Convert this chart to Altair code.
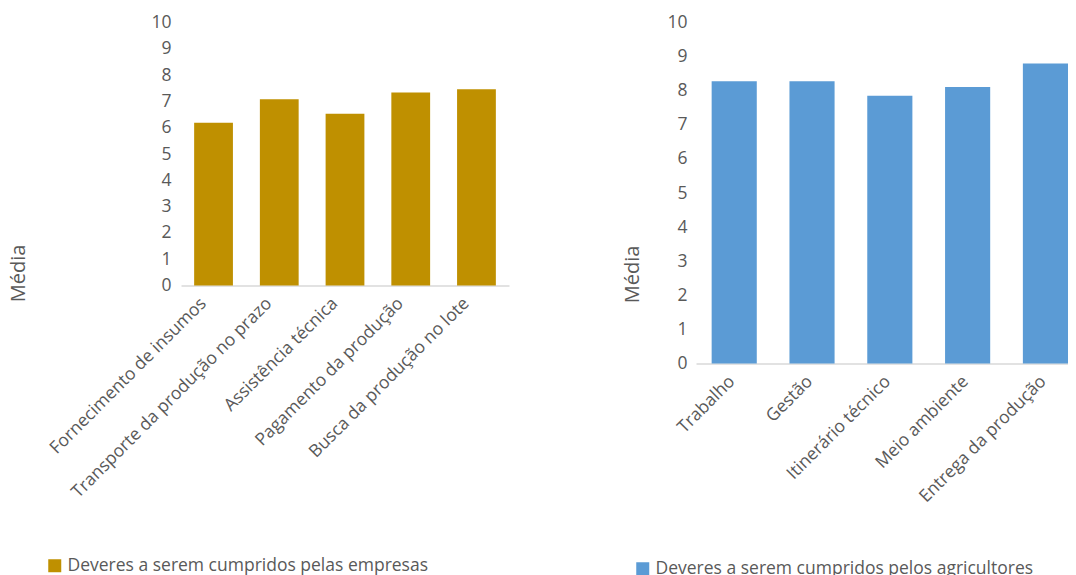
import altair as alt
import pandas as pd

left_categories = ["Fornecimento de insumos", "Transporte da produção no prazo",
                   "Assistência técnica", "Pagamento da produção", "Busca da produção no lote"]
left_values = [6.19, 7.08, 6.53, 7.34, 7.46]
left_series = "Deveres a serem cumpridos pelas empresas"

right_categories = ["Trabalho", "Gestão", "Itinerário técnico", "Meio ambiente", "Entrega da produção"]
right_values = [8.28, 8.28, 7.85, 8.11, 8.80]
right_series = "Deveres a serem cumpridos pelos agricultores"

y_title = "Média"
FONT = "Open Sans"
GREY = "#595959"
FS = 17.5

left_df = pd.DataFrame({"cat": left_categories, "val": left_values, "serie": left_series})
right_df = pd.DataFrame({"cat": right_categories, "val": right_values, "serie": right_series})


def panel(df, color, series, width, height, xscale, title_pad, title_y, label_pad,
          x_pad, x_off, lx, ly):
    return alt.Chart(df).mark_bar(color=color).encode(
        x=alt.X("cat:N", sort=None, title=None, scale=xscale,
                axis=alt.Axis(labelAngle=315, labelAlign="right", labelBaseline="middle",
                              labelPadding=x_pad, labelOffset=x_off, ticks=False,
                              domainColor="#d9d9d9", domainWidth=1.5, labelFontSize=FS,
                              labelColor=GREY, labelFont=FONT, labelLimit=400)),
        y=alt.Y("val:Q", title=y_title,
                scale=alt.Scale(domain=[0, 10], nice=False),
                axis=alt.Axis(values=list(range(0, 11)), grid=False, domain=False, ticks=False,
                              labelPadding=label_pad, labelFontSize=FS, labelColor=GREY,
                              labelFont=FONT, titleFont=FONT, titleFontSize=20,
                              titleFontWeight="normal", titleColor=GREY,
                              titlePadding=title_pad, titleY=title_y)),
        color=alt.Color("serie:N", scale=alt.Scale(domain=[series], range=[color]),
                        legend=alt.Legend(title=None, orient="none", legendX=lx, legendY=ly,
                                          symbolType="square", symbolSize=169,
                                          symbolStrokeWidth=0, labelFontSize=FS,
                                          labelColor=GREY, labelFont=FONT, labelLimit=500)),
    ).properties(width=width, height=height)


left = panel(left_df, "#BF9000", left_series, 328, 263,
             alt.Scale(paddingInner=0.41, paddingOuter=0.2),
             122, 250.5, 10, 15, -10, -135, 534.5)
right = panel(right_df, "#5B9BD5", right_series, 372, 341,
              alt.Scale(paddingInner=0.42, paddingOuter=0.1006, align=1),
              24, 251.5, 9, 15, -2, -62, 537.5)

chart = alt.hconcat(left, right, spacing=113).resolve_scale(color="independent").resolve_legend(
    color="independent"
).properties(padding={"left": 0, "top": 5.5, "right": 0, "bottom": 0}).configure_view(stroke=None)

chart.save("out.html", embed_options={"renderer": "svg", "actions": False})
